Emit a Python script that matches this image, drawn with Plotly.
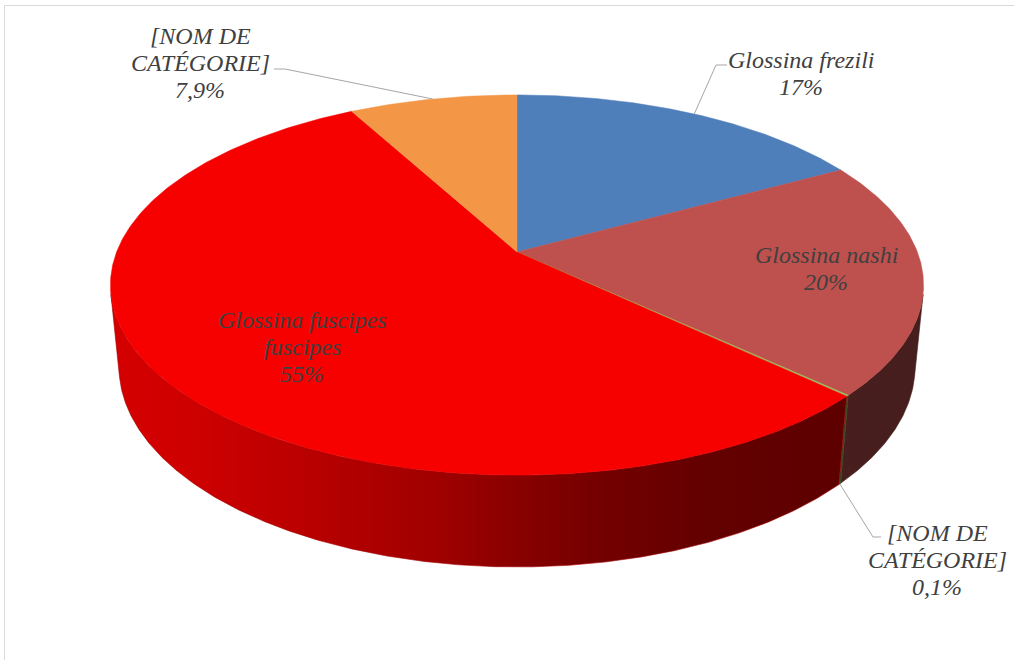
import numpy as np
import plotly.graph_objects as go

# ---- data ----
categories = ["Glossina frezili", "Glossina nashi", "[NOM DE CATÉGORIE]",
              "Glossina fuscipes fuscipes", "[NOM DE CATÉGORIE]"]
values = [17, 20, 0.1, 55, 7.9]
value_labels = ["17%", "20%", "0,1%", "55%", "7,9%"]
label_lines = [["Glossina frezili"], ["Glossina nashi"], ["[NOM DE", "CATÉGORIE]"],
               ["Glossina fuscipes", "fuscipes"], ["[NOM DE", "CATÉGORIE]"]]
colors = ["#4E7FBB", "#BE504E", "#9BBB59", "#F70000", "#F39646"]

# ---- 3D pie projection (perspective camera looking down on a disc) ----
SIN_A = 0.4605
COS_A = np.sqrt(1 - SIN_A ** 2)
DIST = 5.11
FOCAL = 2046.0
CX, CY = 517.0, 252.0
THICK = 0.232


def project(theta, h):
    X = np.sin(theta)
    Yd = np.cos(theta)
    yc = Yd * SIN_A + h * COS_A
    z = DIST + Yd * COS_A - h * SIN_A
    return CX + FOCAL * X / z, CY - FOCAL * yc / z


# front-facing range of the rim: cos(theta) < -1/(DIST*cos(alpha))
FRONT_LIM = np.arccos(-1.0 / (DIST * COS_A))
FRONT_LO, FRONT_HI = FRONT_LIM, 2 * np.pi - FRONT_LIM

total = float(sum(values))
bounds = np.concatenate([[0.0], np.cumsum(values)]) / total * 2 * np.pi

# rim shading across the screen (fraction of the top-face colour)
shade_x = [130, 200, 333, 433, 533, 600, 700, 833, 920]
shade_f = [0.86, 0.83, 0.73, 0.65, 0.535, 0.47, 0.405, 0.38, 0.37]


def hex_rgb(h):
    h = h.lstrip("#")
    return tuple(int(h[i:i + 2], 16) for i in (0, 2, 4))


def scaled(hexcol, f):
    r, g, b = hex_rgb(hexcol)
    return "rgb(%d,%d,%d)" % (round(r * f), round(g * f), round(b * f))


fig = go.Figure()

# rim (side walls) of each slice
x0s, x1s = shade_x[0], shade_x[-1]
for i, col in enumerate(colors):
    a0 = max(bounds[i], FRONT_LO)
    a1 = min(bounds[i + 1], FRONT_HI)
    if a1 <= a0:
        continue
    n = max(4, int(np.degrees(a1 - a0) * 3))
    t = np.linspace(a0, a1, n)
    tx, ty = project(t, 0.0)
    bx, by = project(t[::-1], -THICK)
    xs = np.concatenate([tx, bx, tx[:1]])
    ys = np.concatenate([ty, by, ty[:1]])
    cscale = [[(sx - x0s) / (x1s - x0s), scaled(col, sf)]
              for sx, sf in zip(shade_x, shade_f)]
    mid_color = scaled(col, float(np.interp(np.mean(tx), shade_x, shade_f)))
    fig.add_trace(go.Scatter(
        x=xs, y=ys, mode="lines", fill="toself",
        line=dict(width=0.6, color=mid_color),
        fillgradient=dict(type="horizontal", colorscale=cscale,
                          start=x0s, stop=x1s),
        hoverinfo="skip", showlegend=False))

# top face of each slice
for i, col in enumerate(colors):
    n = max(3, int(np.degrees(bounds[i + 1] - bounds[i]) * 2))
    t = np.linspace(bounds[i], bounds[i + 1], n)
    ax, ay = project(t, 0.0)
    xs = np.concatenate([[CX], ax, [CX]])
    ys = np.concatenate([[CY], ay, [CY]])
    fig.add_trace(go.Scatter(
        x=xs, y=ys, mode="lines", fill="toself", fillcolor=col,
        line=dict(width=0.5, color=col),
        name=categories[i], text=value_labels[i], hoverinfo="name+text",
        showlegend=False))

# ---- data labels (one annotation per text line) ----
label_anchor = [(801, 59), (826, 254), (937, 532), (302, 319), (200, 35)]
LINE_STEP = 27
label_font = dict(family="Liberation Serif", size=24, color="#404040",
                  style="italic")
for i in range(len(values)):
    lines = label_lines[i] + [value_labels[i]]
    x0, y0 = label_anchor[i]
    for k, line in enumerate(lines):
        fig.add_annotation(
            x=x0, y=y0 + 1 + k * LINE_STEP, xref="x", yref="y",
            text=line, showarrow=False, xanchor="center", yanchor="middle",
            font=label_font)

# leader lines from slice edges to their labels
mid = (bounds[:-1] + bounds[1:]) / 2
leaders = {
    0: ((716, 65), (727, 65), 0.0),
    2: ((873, 537), (881, 537), -THICK),
    4: ((285, 69), (274, 69), 0.0),
}
for i, (elbow, end, h) in leaders.items():
    sx, sy = project(mid[i], h)
    fig.add_trace(go.Scatter(
        x=[float(sx), elbow[0], end[0]], y=[float(sy), elbow[1], end[1]],
        mode="lines", line=dict(color="#A6A6A6", width=1),
        hoverinfo="skip", showlegend=False))

# chart area border
fig.add_shape(type="path", path="M 4.5 660 L 4.5 5.5 L 1014 5.5",
              xref="x", yref="y", line=dict(color="#D9D9D9", width=1))

fig.update_layout(
    width=1014, height=660,
    margin=dict(l=0, r=0, t=0, b=0),
    paper_bgcolor="white", plot_bgcolor="white",
    xaxis=dict(range=[0, 1014], visible=False, fixedrange=True),
    yaxis=dict(range=[660, 0], visible=False, fixedrange=True),
    showlegend=False,
)

fig.write_html("out.html")
